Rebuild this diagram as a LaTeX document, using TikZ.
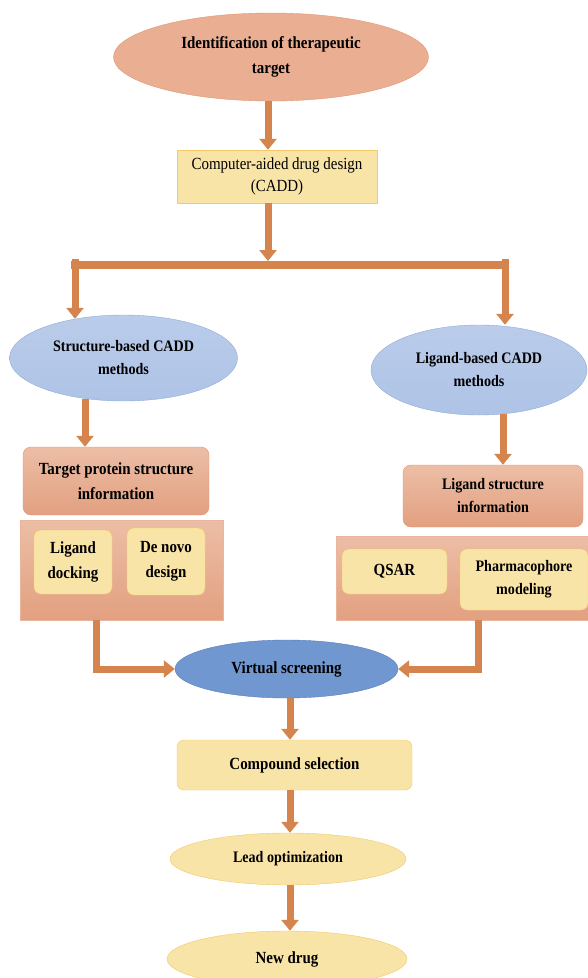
\documentclass[tikz,border=0pt]{standalone}
\usepackage{fontspec}
\setmainfont{Liberation Serif}[FakeStretch=0.88]
\usetikzlibrary{shapes.geometric,arrows.meta,calc}
\definecolor{salmonfill}{RGB}{234,174,146}
\definecolor{salmontop}{RGB}{236,190,166}
\definecolor{salmonbot}{RGB}{226,160,128}
\definecolor{salmonline}{RGB}{226,150,112}
\definecolor{yellowfill}{RGB}{249,228,168}
\definecolor{yellowline}{RGB}{242,200,104}
\definecolor{lightblue}{RGB}{174,195,230}
\definecolor{lightblueline}{RGB}{143,173,217}
\definecolor{darkblue}{RGB}{112,151,208}
\definecolor{darkblueline}{RGB}{88,124,188}
\definecolor{arrowcol}{RGB}{212,132,76}
\begin{document}
\begin{tikzpicture}[x=1pt,y=-1pt,
    font=\fontsize{17}{25}\selectfont\bfseries,
    small/.style={font=\fontsize{16}{23}\selectfont\bfseries},
    every node/.style={align=center,inner sep=0pt},
    salmonell/.style={ellipse,draw=salmonline,fill=salmonfill},
    salmonbox/.style={draw=salmonline,rounded corners=8pt,top color=salmontop,bottom color=salmonbot},
    salmonpanel/.style={draw=salmonline!70,top color=salmontop,bottom color=salmonbot},
    yellowbox/.style={draw=yellowline,fill=yellowfill,rounded corners=7pt},
    yellowell/.style={ellipse,draw=yellowline,fill=yellowfill},
    blueell/.style={ellipse,draw=lightblueline,top color=lightblue!85!white,bottom color=lightblue},
    fatarrow/.style={draw=arrowcol,line width=7pt,
      -{Triangle[width=17pt,length=11pt]},arrowcol},
    fatbar/.style={draw=arrowcol,line width=8pt,line cap=rect}]
    \useasboundingbox (0,0) rectangle (587,978);
    % set coordinates
    \coordinate (spine) at (268,0);
    \coordinate (lspine) at (85,0);
    \coordinate (rspine) at (503,0);
    \coordinate (ldrop) at (96,0);
    \coordinate (rdrop) at (478,0);
    \coordinate (cspine) at (290,0);
    \coordinate (barL) at (75,265);
    \coordinate (barR) at (505,265);
    % draw figure
    \node [salmonell,minimum width=315pt,minimum height=88pt] (target) at (271,57)
      {Identification of therapeutic\\target};
    \node [draw=yellowline,fill=yellowfill,minimum width=200pt,minimum height=53pt,
      font=\fontsize{17}{22}\selectfont\mdseries] (cadd) at (277,176.5)
      {Computer-aided drug design\\(CADD)};
    \node [blueell,small,minimum width=228pt,minimum height=86pt] (sbm) at (123.5,358)
      {Structure-based CADD\\methods};
    \node [blueell,small,minimum width=216pt,minimum height=90pt] (lbm) at (479,370)
      {Ligand-based CADD\\methods};
    \node [salmonbox,minimum width=186pt,minimum height=68pt] (tpi) at (116,481)
      {Target protein structure\\information};
    \node [salmonpanel,minimum width=203pt,minimum height=100pt] (lpanel) at (121.5,570) {};
    \node [yellowbox,minimum width=78pt,minimum height=64pt] (dock) at (73,562)
      {Ligand\\docking};
    \node [yellowbox,minimum width=78pt,minimum height=67pt] (denovo) at (166,561.5)
      {De novo\\design};
    \node [salmonbox,small,minimum width=180pt,minimum height=62pt] (lsi) at (493,496)
      {Ligand structure\\information};
    \node [salmonpanel,minimum width=252pt,minimum height=84pt] (rpanel) at (462,578) {};
    \node [yellowbox,minimum width=105pt,minimum height=45pt] (qsar) at (394.5,571.5)
      {QSAR};
    \node [yellowbox,small,minimum width=128pt,minimum height=61pt] (pharm) at (524,579.5)
      {Pharmacophore\\modeling};
    \node [ellipse,draw=darkblueline,fill=darkblue,minimum width=223pt,minimum height=58pt]
      (vs) at (286.5,669) {Virtual screening};
    \node [yellowbox,minimum width=235pt,minimum height=50pt] (comp) at (294.5,765)
      {Compound selection};
    \node [yellowell,small,minimum width=236pt,minimum height=52pt] (lead) at (288,859)
      {Lead optimization};
    \node [yellowell,minimum width=240pt,minimum height=56pt] (drug) at (287,959)
      {New drug};
    % add connectors
    \draw [fatbar] (barL) -- (barR);
    \draw [fatarrow] (target.south -| spine) -- (cadd.north -| spine);
    \draw [fatarrow] (cadd.south -| spine) -- ($(spine |- barL)+(0,-4)$);
    \draw [fatarrow] ($(barL)+(0,-6)$) -- ($(barL |- sbm.north)+(0,4)$);
    \draw [fatarrow] ($(barR)+(0,-6)$) -- (barR |- lbm.north);
    \draw [fatarrow] ($(lspine |- sbm.south)+(0,-2)$) -- (lspine |- tpi.north);
    \draw [fatarrow] ($(rspine |- lbm.south)+(0,-1)$) -- (rspine |- lsi.north);
    \draw [fatarrow] (ldrop |- lpanel.south) |- (vs.west);
    \draw [fatarrow] (rdrop |- rpanel.south) |- (vs.east);
    \draw [fatarrow] (cspine |- vs.south) -- (cspine |- comp.north);
    \draw [fatarrow] (cspine |- comp.south) -- (cspine |- lead.north);
    \draw [fatarrow] (cspine |- lead.south) -- (cspine |- drug.north);
\end{tikzpicture}
\end{document}
